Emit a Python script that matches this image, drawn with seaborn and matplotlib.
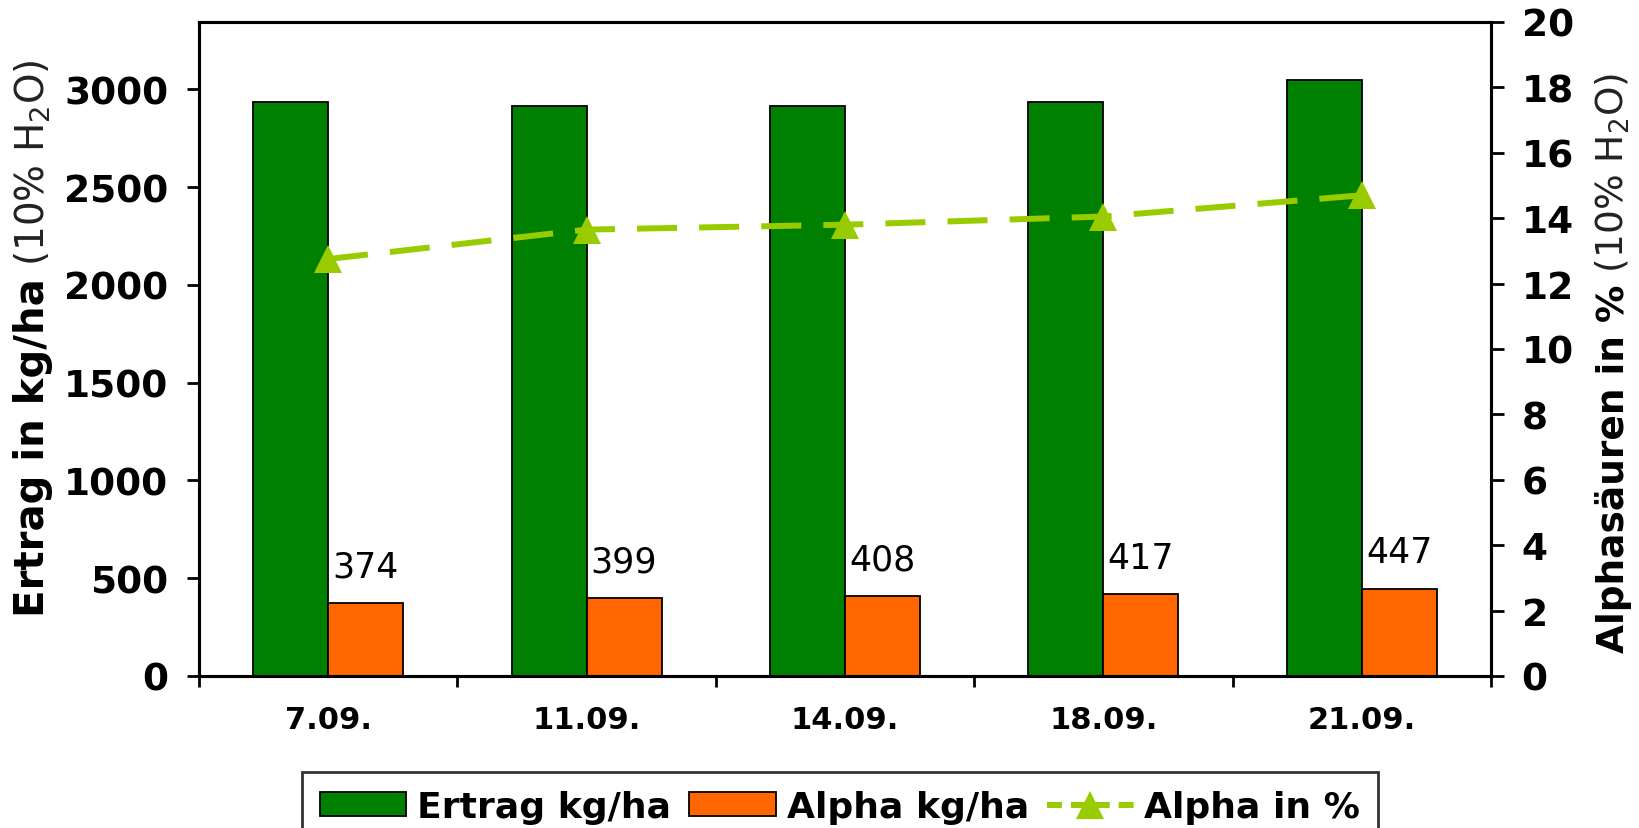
import numpy as np
import pandas as pd
import seaborn as sns
import matplotlib.pyplot as plt
from matplotlib.patches import Patch
from matplotlib.lines import Line2D

dates = ["7.09.", "11.09.", "14.09.", "18.09.", "21.09."]
ertrag = [2937, 2915, 2915, 2937, 3049]
alpha_kg = [374, 399, 408, 417, 447]
alpha_pct = [12.75, 13.65, 13.8, 14.05, 14.7]

GREEN = "#008000"
ORANGE = "#FF6600"
LIME = "#99CC00"


def main():
    sns.set_theme(style="white")
    plt.rcParams["font.family"] = ["DejaVu Sans"]
    plt.rcParams["mathtext.fontset"] = "dejavusans"
    for k in ["text.color", "axes.labelcolor", "xtick.color", "ytick.color"]:
        plt.rcParams[k] = "black"

    df = pd.DataFrame({
        "date": dates * 2,
        "value": ertrag + alpha_kg,
        "series": ["Ertrag kg/ha"] * len(dates) + ["Alpha kg/ha"] * len(dates),
    })

    fig = plt.figure(figsize=(16.39, 8.29), dpi=100)
    ax = fig.add_axes([0.1214, 0.1834, 0.7883, 0.7889])

    sns.barplot(data=df, x="date", y="value", hue="series", order=dates,
                palette=[GREEN, ORANGE], saturation=1, width=0.58, dodge=True,
                edgecolor="black", linewidth=1.3, ax=ax, legend=False)
    ax.bar_label(ax.containers[1], fontsize=25, padding=14, color="black")

    ax.set_xlim(-0.5, len(dates) - 0.5)
    ax.set_ylim(0, 3345)
    ax.set_yticks(np.arange(0, 3001, 500))
    ax.set_yticklabels([str(v) for v in range(0, 3001, 500)], fontsize=27, fontweight="bold")
    ax.set_xticks(np.arange(-0.5, len(dates), 1))
    ax.set_xticklabels([])
    ax.set_xticks(range(len(dates)), minor=True)
    ax.set_xticklabels(dates, minor=True, fontsize=22, fontweight="bold")
    ax.tick_params(axis="x", which="major", length=8, width=2, direction="out", bottom=True)
    ax.tick_params(axis="x", which="minor", length=0, pad=21)
    ax.tick_params(axis="y", length=9, width=2, direction="out", pad=13, left=True)
    ax.set_xlabel("")
    ax.set_ylabel("")
    for s in ax.spines.values():
        s.set_linewidth(2.2)
        s.set_color("black")

    ax2 = ax.twinx()
    sns.lineplot(x=np.arange(len(dates)), y=alpha_pct, ax=ax2, color=LIME,
                 marker="^", markersize=20, markeredgewidth=0, linewidth=4.3)
    ax2.lines[0].set_dashes((6.7, 3.7))
    ax2.set_ylim(0, 20)
    ax2.set_yticks(np.arange(0, 21, 2))
    ax2.set_yticklabels([str(v) for v in range(0, 21, 2)], fontsize=27, fontweight="bold")
    ax2.tick_params(axis="y", length=9, width=2, direction="out", pad=13, right=True)
    ax2.set_ylabel("")
    for s in ax2.spines.values():
        s.set_linewidth(2.2)
        s.set_color("black")

    # axis titles: bold part + normal part
    t1 = fig.text(33 / 1639, 1 - 617 / 829, "Ertrag in kg/ha", rotation=90,
                  fontsize=29, fontweight="bold", ha="center", va="bottom")
    ax.annotate(" (10% H$_2$O)", xy=(0.5, 1), xycoords=t1, rotation=90,
                fontsize=28, ha="center", va="bottom", color="#222222")
    t2 = fig.text(1613 / 1639, 1 - 653 / 829, "Alphasäuren in %", rotation=90,
                  fontsize=27, fontweight="bold", ha="center", va="bottom")
    ax.annotate(" (10% H$_2$O)", xy=(0.5, 1), xycoords=t2, rotation=90,
                fontsize=27, ha="center", va="bottom", color="#222222")

    handles = [
        Patch(facecolor=GREEN, edgecolor="black", linewidth=1.3),
        Patch(facecolor=ORANGE, edgecolor="black", linewidth=1.3),
        Line2D([0], [0], color=LIME, marker="^", markersize=20, markeredgewidth=0,
               linewidth=4.3, dashes=(2.5, 1.5)),
    ]
    leg = fig.legend(handles, ["Ertrag kg/ha", "Alpha kg/ha", "Alpha in %"],
                     loc="upper center", bbox_to_anchor=(840 / 1639, 1 - 773 / 829),
                     ncol=3, frameon=True, fancybox=False, edgecolor="black",
                     prop={"size": 26, "weight": "bold"}, handlelength=2.4,
                     handleheight=0.65, handletextpad=0.3, columnspacing=0.5,
                     borderpad=0.5, borderaxespad=0)
    leg.get_frame().set_linewidth(2)

    fig.savefig("out.png", dpi=100)


if __name__ == "__main__":
    main()
